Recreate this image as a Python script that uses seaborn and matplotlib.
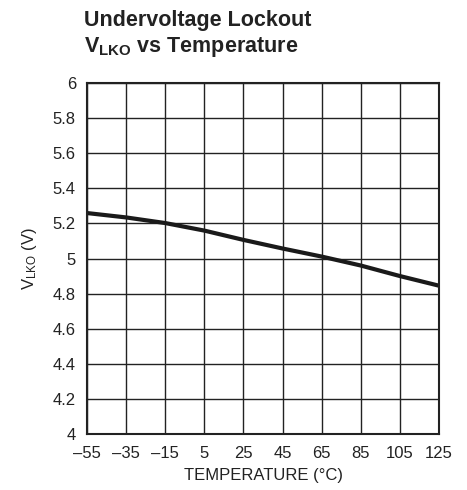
import matplotlib
matplotlib.use("Agg")
import matplotlib.pyplot as plt
import seaborn as sns
import pandas as pd

sns.set_theme(style="white")

FONT = "Liberation Sans"
plt.rcParams["font.family"] = [FONT, "DejaVu Sans"]
plt.rcParams["mathtext.fontset"] = "custom"
plt.rcParams["mathtext.rm"] = FONT
plt.rcParams["mathtext.it"] = FONT + ":italic"
plt.rcParams["mathtext.bf"] = FONT + ":bold"

# data
temperature = [-55, -35, -15, 5, 25, 45, 65, 85, 105, 125]
v_lko = [5.259, 5.234, 5.202, 5.159, 5.106, 5.057, 5.011, 4.960, 4.900, 4.845]
x_ticks = [-55, -35, -15, 5, 25, 45, 65, 85, 105, 125]
y_ticks = [4, 4.2, 4.4, 4.6, 4.8, 5, 5.2, 5.4, 5.6, 5.8, 6]
y_tick_labels = ["4", "4.2", "4.4", "4.6", "4.8", "5", "5.2", "5.4", "5.6", "5.8", "6"]

df = pd.DataFrame({"temp": temperature, "vlko": v_lko})

fig = plt.figure(figsize=(4.67, 4.9), dpi=100)
ax = fig.add_axes([87 / 467, 1 - 434 / 490, 352 / 467, 351 / 490])

sns.lineplot(data=df, x="temp", y="vlko", ax=ax, color="#1a1a1a", linewidth=3)

ax.set_xlim(-55, 125)
ax.set_ylim(4, 6)
ax.set_xticks(x_ticks)
ax.set_xticklabels([str(t).replace("-", "\u2013") for t in x_ticks])
ax.set_yticks(y_ticks)
ax.set_yticklabels(y_tick_labels)
ax.grid(True, color="#222222", linewidth=1)
for s in ax.spines.values():
    s.set_color("#222222")
    s.set_linewidth(1.5)
ax.tick_params(axis="x", length=0, labelsize=12, colors="#222222", pad=9)
ax.tick_params(axis="y", length=0, labelsize=12, colors="#222222", pad=8)

ax.set_xlabel("TEMPERATURE (°C)", fontsize=12, color="#222222", labelpad=5)
ax.set_ylabel(r"V$_{\mathrm{LKO}}$ (V)", fontsize=12, color="#222222", labelpad=10)

# two-line bold title, left aligned with the plot frame
fig.text(84 / 467, 1 - 10 / 490, "Undervoltage Lockout\n" + r"V$_{\mathbf{LKO}}$ vs Temperature",
         fontsize=15.5, fontweight="bold", color="#222222", ha="left", va="top",
         linespacing=1.25)

fig.savefig("out.png", dpi=100)
